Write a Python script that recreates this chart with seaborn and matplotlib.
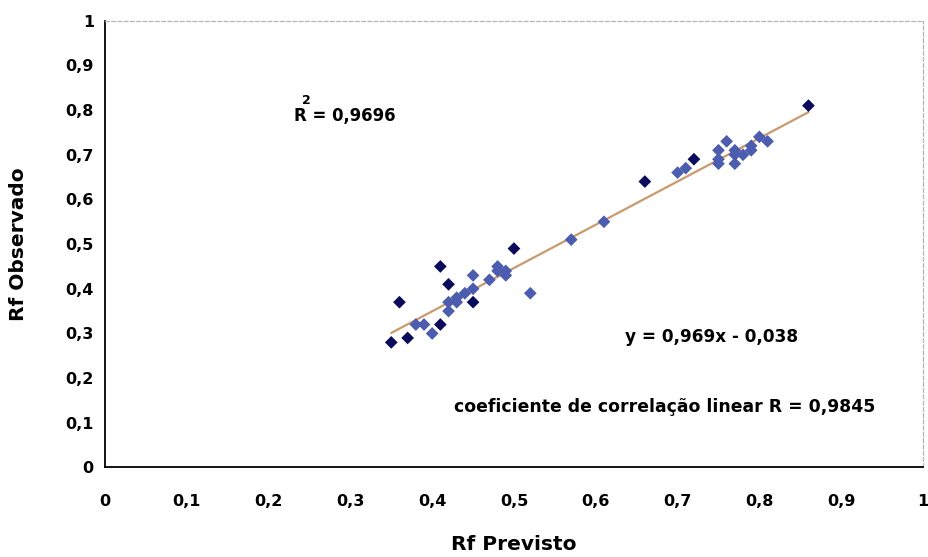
import numpy as np
import pandas as pd
import matplotlib
matplotlib.use("Agg")
import matplotlib.pyplot as plt
import seaborn as sns

# Predicted vs observed Rf values (two groups of samples)
prev_a = [0.35, 0.37, 0.36, 0.41, 0.41, 0.42, 0.45, 0.50, 0.66, 0.72, 0.86]
obs_a = [0.28, 0.29, 0.37, 0.32, 0.45, 0.41, 0.37, 0.49, 0.64, 0.69, 0.81]

prev_b = [0.38, 0.39, 0.40, 0.42, 0.42, 0.43, 0.43, 0.44, 0.45, 0.45, 0.47,
          0.48, 0.48, 0.49, 0.49, 0.52, 0.57, 0.61, 0.70, 0.71, 0.75, 0.76,
          0.75, 0.75, 0.77, 0.77, 0.77, 0.78, 0.79, 0.79, 0.80, 0.81]
obs_b = [0.32, 0.32, 0.30, 0.35, 0.37, 0.37, 0.38, 0.39, 0.40, 0.43, 0.42,
         0.45, 0.44, 0.44, 0.43, 0.39, 0.51, 0.55, 0.66, 0.67, 0.71, 0.73,
         0.69, 0.68, 0.71, 0.70, 0.68, 0.70, 0.72, 0.71, 0.74, 0.73]

# Linear fit reported on the chart
slope = 0.969
intercept = -0.038
r2 = "0,9696"
r_coef = "0,9845"
fit_range = [0.35, 0.86]

tick_vals = [0, 0.1, 0.2, 0.3, 0.4, 0.5, 0.6, 0.7, 0.8, 0.9, 1]
tick_labels = ["0", "0,1", "0,2", "0,3", "0,4", "0,5", "0,6", "0,7", "0,8", "0,9", "1"]

sns.set_theme(style="white")
plt.rcParams["font.family"] = ["DejaVu Sans"]
plt.rcParams["text.color"] = "black"
plt.rcParams["axes.labelcolor"] = "black"
plt.rcParams["xtick.color"] = "black"
plt.rcParams["ytick.color"] = "black"

df = pd.DataFrame({
    "prev": prev_a + prev_b,
    "obs": obs_a + obs_b,
    "grupo": ["a"] * len(prev_a) + ["b"] * len(prev_b),
})
fit = pd.DataFrame({"x": fit_range})
fit["y"] = slope * fit["x"] + intercept

fig = plt.figure(figsize=(9.29, 5.57), dpi=100)
ax = fig.add_axes([0.113, 0.1607, 0.8805, 0.8021])

sns.lineplot(data=fit, x="x", y="y", ax=ax, color="#c89a6e", linewidth=1.6,
             zorder=1)
sns.scatterplot(data=df, x="prev", y="obs", hue="grupo", ax=ax,
                palette={"a": "#0b0b5c", "b": "#4c5cae"}, marker="D", s=42,
                edgecolor="none", legend=False, zorder=3)

ax.set_xlim(0, 1)
ax.set_ylim(0, 1)
ax.set_xticks(tick_vals)
ax.set_xticklabels(tick_labels)
ax.set_yticks(tick_vals)
ax.set_yticklabels(tick_labels)
ax.tick_params(axis="both", which="major", direction="out", length=3,
               width=1, color="black", labelcolor="black", labelsize=11.5)
ax.tick_params(axis="x", pad=16)
ax.tick_params(axis="y", pad=5)
for lab in ax.get_xticklabels() + ax.get_yticklabels():
    lab.set_fontweight("bold")

for side in ("left", "bottom"):
    ax.spines[side].set_color("black")
    ax.spines[side].set_linewidth(1.3)
for side in ("top", "right"):
    ax.spines[side].set_color("#b5b5b5")
    ax.spines[side].set_linewidth(0.9)
    ax.spines[side].set_linestyle((0, (3, 2)))

ax.set_xlabel("Rf Previsto", fontsize=14.5, fontweight="bold", color="black")
ax.set_ylabel("Rf Observado", fontsize=14.5, fontweight="bold", color="black")
ax.xaxis.set_label_coords(0.5, -0.152)
ax.yaxis.set_label_coords(-0.094, 0.5)

ax.text(0.293, 0.787, f"R = {r2}", fontsize=11.9, fontweight="bold",
        ha="center", va="center")
ax.text(0.246, 0.822, "2", fontsize=9, fontweight="bold",
        ha="center", va="center")
ax.text(0.741, 0.292, f"y = {slope:.3f}x - {abs(intercept):.3f}".replace(".", ","),
        fontsize=12.2, fontweight="bold", ha="center", va="center")
ax.text(0.684, 0.135, f"coeficiente de correlação linear R = {r_coef}",
        fontsize=12.4, fontweight="bold", ha="center", va="center")

fig.savefig("out.png", dpi=100, facecolor="white")
